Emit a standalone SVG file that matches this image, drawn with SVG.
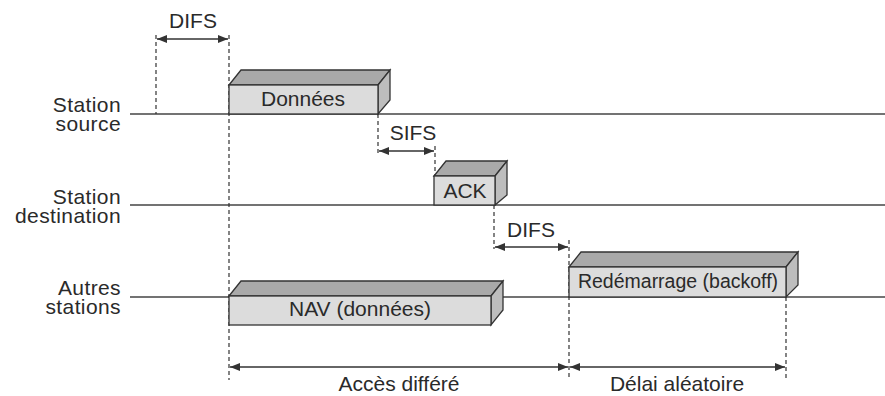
<svg xmlns="http://www.w3.org/2000/svg" width="885" height="396" viewBox="0 0 885 396">
<defs>
<style>
text{font-family:"Liberation Sans",Arial,sans-serif;fill:#2a2a2a}
.lbl{font-size:21px;text-anchor:end;letter-spacing:0.4px}
.t{font-size:21px;text-anchor:middle}
.line{stroke:#444;stroke-width:1.5;fill:none}
.dash{stroke:#333;stroke-width:1.2;stroke-dasharray:4,3;fill:none}
.arr{stroke:#333;stroke-width:1.3;fill:none;marker-start:url(#ah);marker-end:url(#ah)}
.front{fill:#dcdcdc;stroke:#333;stroke-width:1.3}
.top{fill:#a9a9a9;stroke:#333;stroke-width:1.3}
.side{fill:#bdbdbd;stroke:#333;stroke-width:1.3}
</style>
<marker id="ah" viewBox="0 0 10 8" refX="10" refY="4" markerWidth="10" markerHeight="8" markerUnits="userSpaceOnUse" orient="auto-start-reverse">
<path d="M0,0 L10,4 L0,8 Z" fill="#333"/>
</marker>
</defs>
<g id="labels">
<text class="lbl" x="121" y="112">Station</text>
<text class="lbl" x="121" y="131">source</text>
<text class="lbl" x="121" y="204">Station</text>
<text class="lbl" x="121" y="223">destination</text>
<text class="lbl" x="121" y="295">Autres</text>
<text class="lbl" x="121" y="314">stations</text>
</g>
<g id="timelines">
<line class="line" x1="130" y1="114" x2="885" y2="114"/>
<line class="line" x1="130" y1="205" x2="885" y2="205"/>
<line class="line" x1="130" y1="297" x2="885" y2="297"/>
</g>
<g id="connectors">
<line class="dash" x1="156" y1="35" x2="156" y2="114"/>
<line class="dash" x1="229" y1="35" x2="229" y2="380"/>
<line class="dash" x1="378" y1="114" x2="378" y2="153"/>
<line class="dash" x1="435" y1="146" x2="435" y2="176"/>
<line class="dash" x1="494" y1="205" x2="494" y2="249"/>
<line class="dash" x1="569" y1="240" x2="569" y2="380"/>
<line class="dash" x1="786" y1="297" x2="786" y2="380"/>
<line class="arr" x1="157" y1="39" x2="228" y2="39"/>
<line class="arr" x1="379" y1="151" x2="434" y2="151"/>
<line class="arr" x1="495" y1="247" x2="568" y2="247"/>
<line class="arr" x1="230" y1="367" x2="568" y2="367"/>
<line class="arr" x1="570" y1="367" x2="785" y2="367"/>
</g>
<text class="t" x="193" y="28">DIFS</text>
<text class="t" x="413" y="140">SIFS</text>
<text class="t" x="531" y="237">DIFS</text>
<g id="donnees">
<polygon class="top" points="229,85 241,70 390,70 378,85"/>
<polygon class="side" points="378,85 390,70 390,100 378,114"/>
<rect class="front" x="229" y="85" width="149" height="29"/>
<text class="t" x="303" y="106">Données</text>
</g>
<g id="ack">
<polygon class="top" points="434,176 446,161 507,161 495,176"/>
<polygon class="side" points="495,176 507,161 507,195 495,205"/>
<rect class="front" x="434" y="176" width="61" height="29"/>
<text class="t" x="465" y="198">ACK</text>
</g>
<g id="nav">
<polygon class="top" points="229,296 241,281 503,281 491,296"/>
<polygon class="side" points="491,296 503,281 503,310 491,325"/>
<rect class="front" x="229" y="296" width="262" height="29"/>
<text class="t" x="360" y="316">NAV (données)</text>
</g>
<g id="backoff">
<polygon class="top" points="569,267 581,252 798,252 786,267"/>
<polygon class="side" points="786,267 798,252 798,285 786,297"/>
<rect class="front" x="569" y="267" width="217" height="30"/>
<text class="t" x="678" y="288" style="font-size:19.5px">Redémarrage (backoff)</text>
</g>
<text class="t" x="399" y="391">Accès différé</text>
<text class="t" x="677" y="391">Délai aléatoire</text>
</svg>
